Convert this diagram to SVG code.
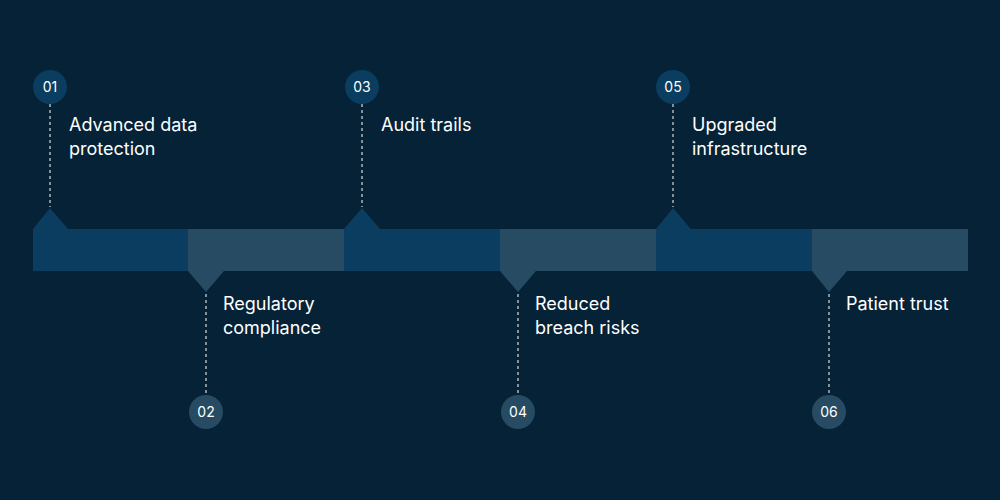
<svg xmlns="http://www.w3.org/2000/svg" width="1000" height="500" viewBox="0 0 1000 500">
<style>
.a{fill:#0a3d5f}.b{fill:#264b62}
.t{font-family:"Inter","Liberation Sans",sans-serif;font-size:18px;fill:#fff}
.n{font-family:"Inter","Liberation Sans",sans-serif;font-size:14px;fill:#fff;text-anchor:middle}
.d{stroke:#fff;stroke-width:1;stroke-dasharray:3 3;fill:none}
</style>
<rect width="1000" height="500" fill="#062237"/>
<g id="bar">
<path class="a" d="M33 229 L50 208 L68 229 L188 229 L188 271 L33 271Z"/>
<path class="b" d="M188 229 L344 229 L344 271 L224 271 L206 292 L188 271Z"/>
<path class="a" d="M344 229 L362 208 L380 229 L500 229 L500 271 L344 271Z"/>
<path class="b" d="M500 229 L656 229 L656 271 L536 271 L518 292 L500 271Z"/>
<path class="a" d="M656 229 L673 208 L691 229 L812 229 L812 271 L656 271Z"/>
<path class="b" d="M812 229 L968 229 L968 271 L847 271 L829 292 L812 271Z"/>
</g>
<g id="connectors">
<line class="d" x1="50" y1="104" x2="50" y2="207"/>
<line class="d" x1="362" y1="104" x2="362" y2="207"/>
<line class="d" x1="673" y1="104" x2="673" y2="207"/>
<line class="d" x1="206" y1="294" x2="206" y2="395"/>
<line class="d" x1="518" y1="294" x2="518" y2="395"/>
<line class="d" x1="829" y1="294" x2="829" y2="395"/>
</g>
<g id="n1"><circle class="a" cx="50" cy="87" r="17"/><text class="n" x="50" y="92">01</text><text class="t" x="69" y="131">Advanced data</text><text class="t" x="69" y="155">protection</text></g>
<g id="n2"><circle class="b" cx="206" cy="412" r="17"/><text class="n" x="206" y="417">02</text><text class="t" x="223" y="310">Regulatory</text><text class="t" x="223" y="334">compliance</text></g>
<g id="n3"><circle class="a" cx="362" cy="87" r="17"/><text class="n" x="362" y="92">03</text><text class="t" x="381" y="131">Audit trails</text></g>
<g id="n4"><circle class="b" cx="518" cy="412" r="17"/><text class="n" x="518" y="417">04</text><text class="t" x="535" y="310">Reduced</text><text class="t" x="535" y="334">breach risks</text></g>
<g id="n5"><circle class="a" cx="673" cy="87" r="17"/><text class="n" x="673" y="92">05</text><text class="t" x="692" y="131">Upgraded</text><text class="t" x="692" y="155">infrastructure</text></g>
<g id="n6"><circle class="b" cx="829" cy="412" r="17"/><text class="n" x="829" y="417">06</text><text class="t" x="846" y="310">Patient trust</text></g>
</svg>
